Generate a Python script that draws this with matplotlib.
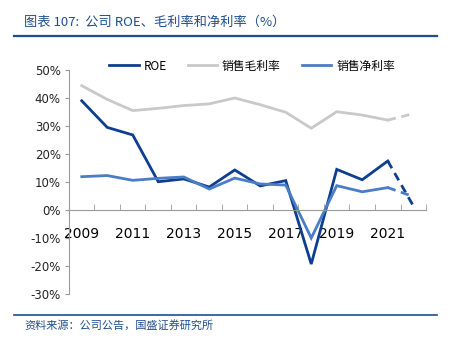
import numpy as np
import matplotlib.pyplot as plt

plt.rcParams['font.family'] = ['DejaVu Sans', 'Noto Sans CJK SC']

# 年份与三条序列（%）
years = list(range(2009, 2023))
roe = [39.0, 29.5, 26.8, 10.1, 11.1, 8.2, 14.3, 8.6, 10.5, -19.3, 14.5, 10.8, 17.5, 1.5]
gross_margin = [44.4, 39.5, 35.5, 36.3, 37.3, 37.9, 40.0, 37.6, 34.9, 29.2, 35.1, 33.9, 32.1, 34.4]
net_margin = [11.9, 12.3, 10.6, 11.3, 11.8, 7.5, 11.4, 9.3, 8.9, -10.0, 8.7, 6.5, 8.0, 4.8]
y_ticks = [-30, -20, -10, 0, 10, 20, 30, 40, 50]

c_roe = '#0D3E8F'
c_gross = '#C9C9C9'
c_net = '#4A7DC6'
c_title = '#1F4E8C'

fig = plt.figure(figsize=(4.53, 3.47), dpi=100)
ax = fig.add_axes([0.1523, 0.1527, 0.7881, 0.6456])

x = np.arange(len(years))
last = len(years) - 1
for vals, col, lab in [(roe, c_roe, 'ROE'), (gross_margin, c_gross, '销售毛利率'),
                       (net_margin, c_net, '销售净利率')]:
    ax.plot(x[:last], vals[:last], color=col, lw=2, label=lab, solid_joinstyle='miter')
    # 最后一年为预测值，用虚线
    ax.plot(x[last - 1:], vals[last - 1:], color=col, lw=2, ls=(0, (3, 2)))

ax.set_xlim(-0.5, len(years) - 0.5)
ax.set_ylim(-30, 50)
ax.set_yticks(y_ticks)
ax.set_yticklabels([f'{v}%' for v in y_ticks], fontsize=8.5, color='#222222')

ax.set_xticks(x[::2])
ax.set_xticklabels([str(y) for y in years[::2]], fontsize=7.5, color='#222222')
ax.set_xticks(np.arange(-0.5, len(years), 1), minor=True)
ax.tick_params(axis='x', which='major', length=0, pad=12)
ax.tick_params(axis='x', which='minor', direction='in', length=4, color='#999999')
ax.tick_params(axis='y', direction='out', length=3, color='#999999', pad=3)

for s in ['top', 'right']:
    ax.spines[s].set_visible(False)
ax.spines['bottom'].set_position(('data', 0))
ax.spines['bottom'].set_color('#999999')
ax.spines['left'].set_color('#999999')
ax.spines['bottom'].set_linewidth(0.8)
ax.spines['left'].set_linewidth(0.8)

leg = fig.legend(*ax.get_legend_handles_labels(), loc='center',
                 bbox_to_anchor=(252 / 453, 1 - 66 / 347), ncol=3, frameon=False,
                 handlelength=2.5, handletextpad=0.4, columnspacing=1.8,
                 prop={'family': ['Noto Sans CJK SC', 'DejaVu Sans'], 'size': 8.5})

# 标题、分隔线与资料来源
fig.text(24 / 453, 1 - 22 / 347, '图表 107:  公司 ROE、毛利率和净利率（%）', fontsize=9.5,
         color=c_title, va='center', ha='left', style='italic',
         family=['Noto Sans CJK SC', 'DejaVu Sans'])
fig.add_artist(plt.Line2D([14 / 453, 437 / 453], [1 - 36 / 347] * 2, color=c_title, lw=1.6))
fig.add_artist(plt.Line2D([14 / 453, 437 / 453], [1 - 315 / 347] * 2, color=c_title, lw=1.2))
fig.text(24 / 453, 1 - 325 / 347, '资料来源：公司公告，国盛证券研究所', fontsize=8,
         color=c_title, va='center', ha='left', style='italic',
         family=['Noto Sans CJK SC', 'DejaVu Sans'])

fig.savefig('out.png', dpi=100)
